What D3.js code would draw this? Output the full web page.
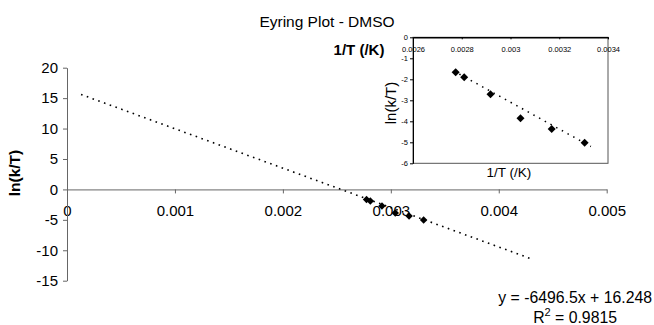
<!DOCTYPE html>
<html>
<head>
<meta charset="utf-8">
<script src="https://cdn.jsdelivr.net/npm/d3@7"></script>
<style>
  body { margin: 0; background: #fff; }
  svg { font-family: "Liberation Sans", Arial, sans-serif; }
</style>
</head>
<body>
<div id="chart"></div>
<script>
// values
const invT = [0.002775, 0.00281, 0.002918, 0.003041, 0.003169, 0.003304];
const lnkT = [-1.67, -1.9, -2.71, -3.86, -4.37, -5.02];

// trendline end points (main and inset)
const trendX = [0.00013, 0.0043];
const trendY = [15.6, -11.4];
const insetTrendX = [0.00279, 0.00333];
const insetTrendY = [-1.75, -5.2];

const xTicks = [0, 0.001, 0.002, 0.003, 0.004, 0.005];
const xTickLabels = ["0", "0.001", "0.002", "0.003", "0.004", "0.005"];
const yTicks = [-15, -10, -5, 0, 5, 10, 15, 20];
const insetXTicks = [0.0026, 0.0028, 0.003, 0.0032, 0.0034];
const insetXTickLabels = ["0.0026", "0.0028", "0.003", "0.0032", "0.0034"];
const insetYTicks = [0, -1, -2, -3, -4, -5, -6];

const title = "Eyring Plot - DMSO";
const xTitle = "1/T (/K)";
const yTitle = "ln(k/T)";
const eqText = "y = -6496.5x + 16.248";
const r2Value = "0.9815";

const width = 654, height = 325;

const svg = d3.select("#chart").append("svg")
  .attr("width", width)
  .attr("height", height);

// ---- main chart ----
const x = d3.scaleLinear().domain([0, 0.005]).range([67, 606.7]);
const y = d3.scaleLinear().domain([-15, 20]).range([280.7, 67.7]);

const xAxis = svg.append("g")
  .attr("transform", `translate(0,${y(0)})`)
  .call(d3.axisBottom(x).tickValues(xTicks).tickSize(4).tickSizeOuter(0)
    .tickFormat((d, i) => xTickLabels[i]));
xAxis.selectAll("text").attr("dy", "0").attr("y", 27).style("font-size", "15px").attr("fill", "#000");

const yAxis = svg.append("g")
  .attr("transform", `translate(${x(0)},0)`)
  .call(d3.axisLeft(y).tickValues(yTicks).tickSize(4).tickSizeOuter(0)
    .tickFormat(d => String(d)));
yAxis.selectAll("text").attr("x", -9).style("font-size", "15px").attr("fill", "#000");

svg.selectAll(".domain, .tick line").attr("stroke", "#666");

svg.append("line")
  .attr("x1", x(trendX[0])).attr("y1", y(trendY[0]))
  .attr("x2", x(trendX[1])).attr("y2", y(trendY[1]))
  .attr("stroke", "#000")
  .attr("stroke-width", 1.6)
  .attr("stroke-dasharray", "1.6,4.5");

const diamond = d3.symbol().type(d3.symbolSquare).size(28);

svg.append("g")
  .selectAll("path")
  .data(invT.map((v, i) => ({ x: v, y: lnkT[i] })))
  .join("path")
  .attr("d", diamond)
  .attr("transform", d => `translate(${x(d.x)},${y(d.y)}) rotate(45)`)
  .attr("fill", "#000");

svg.append("text")
  .attr("x", 327).attr("y", 27)
  .attr("text-anchor", "middle")
  .style("font-size", "15.5px")
  .text(title);

svg.append("text")
  .attr("x", 359).attr("y", 55)
  .attr("text-anchor", "middle")
  .style("font-size", "15px")
  .style("font-weight", "bold")
  .text(xTitle);

svg.append("text")
  .attr("transform", "translate(20,173) rotate(-90)")
  .attr("text-anchor", "middle")
  .style("font-size", "15.5px")
  .style("font-weight", "bold")
  .text(yTitle);

svg.append("text")
  .attr("x", 652).attr("y", 303)
  .attr("text-anchor", "end")
  .style("font-size", "15.8px")
  .text(eqText);

const r2 = svg.append("text")
  .attr("x", 617).attr("y", 322.5)
  .attr("text-anchor", "end")
  .style("font-size", "15.8px");
r2.append("tspan").text("R");
r2.append("tspan").attr("dy", -7).style("font-size", "11px").text("2");
r2.append("tspan").attr("dy", 7).text(" = " + r2Value);

// ---- inset chart ----
const ix = d3.scaleLinear().domain([0.0026, 0.0034]).range([413, 608]);
const iy = d3.scaleLinear().domain([-6, 0]).range([163.3, 37.3]);

const inset = svg.append("g");

inset.append("rect")
  .attr("x", ix.range()[0]).attr("y", iy.range()[1])
  .attr("width", ix.range()[1] - ix.range()[0])
  .attr("height", iy.range()[0] - iy.range()[1])
  .attr("fill", "#fff")
  .attr("stroke", "#555")
  .attr("stroke-width", 1);

const ixAxis = inset.append("g")
  .attr("transform", `translate(0,${iy(0)})`)
  .call(d3.axisBottom(ix).tickValues(insetXTicks).tickSize(2).tickSizeOuter(0)
    .tickFormat((d, i) => insetXTickLabels[i]));
ixAxis.select(".domain").attr("stroke", "#000").attr("stroke-width", 1.5);
ixAxis.selectAll("text").attr("dy", "0").attr("y", 15).style("font-size", "7.5px").attr("fill", "#000");

const iyAxis = inset.append("g")
  .attr("transform", `translate(${ix(0.0026)},0)`)
  .call(d3.axisLeft(iy).tickValues(insetYTicks).tickSize(3).tickSizeOuter(0)
    .tickFormat(d => String(d)));
iyAxis.select(".domain").attr("stroke", "#000");
iyAxis.selectAll("text").attr("x", -5).style("font-size", "7.5px").attr("fill", "#000");
inset.selectAll(".tick line").attr("stroke", "#000");

inset.append("line")
  .attr("x1", ix(insetTrendX[0])).attr("y1", iy(insetTrendY[0]))
  .attr("x2", ix(insetTrendX[1])).attr("y2", iy(insetTrendY[1]))
  .attr("stroke", "#000")
  .attr("stroke-width", 1.5)
  .attr("stroke-dasharray", "1.5,5");

inset.append("g")
  .selectAll("path")
  .data(invT.map((v, i) => ({ x: v, y: lnkT[i] })))
  .join("path")
  .attr("d", d3.symbol().type(d3.symbolSquare).size(32))
  .attr("transform", d => `translate(${ix(d.x)},${iy(d.y)}) rotate(45)`)
  .attr("fill", "#000");

inset.append("text")
  .attr("x", 509).attr("y", 177)
  .attr("text-anchor", "middle")
  .style("font-size", "13.5px")
  .text(xTitle);

inset.append("text")
  .attr("transform", "translate(396,103) rotate(-90)")
  .attr("text-anchor", "middle")
  .style("font-size", "15px")
  .text(yTitle);
</script>
</body>
</html>
